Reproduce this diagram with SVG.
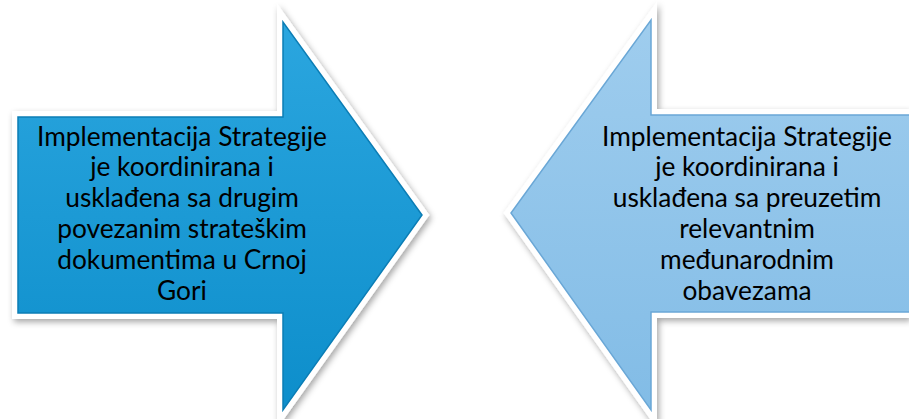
<svg xmlns="http://www.w3.org/2000/svg" width="909" height="419" viewBox="0 0 909 419">
<defs>
<linearGradient id="gL" x1="0" y1="0" x2="0" y2="1">
<stop offset="0" stop-color="#2ba6df"/>
<stop offset="1" stop-color="#0d8ecb"/>
</linearGradient>
<linearGradient id="gR" x1="0" y1="0" x2="0" y2="1">
<stop offset="0" stop-color="#9fcdee"/>
<stop offset="1" stop-color="#82bce6"/>
</linearGradient>
<filter id="sh" x="-10%" y="-10%" width="120%" height="120%">
<feGaussianBlur in="SourceAlpha" stdDeviation="3"/>
<feOffset dx="2" dy="3" result="b"/>
<feFlood flood-color="#000" flood-opacity="0.35"/>
<feComposite in2="b" operator="in" result="s"/>
<feMerge><feMergeNode in="s"/><feMergeNode in="SourceGraphic"/></feMerge>
</filter>
<style>
.lbl{font-family:Lato,"Liberation Sans",sans-serif;font-size:26.3px;fill:#000;text-anchor:middle}
.rim{fill:#fff;stroke:#fff;stroke-width:12;stroke-linejoin:miter}
</style>
</defs>
<g id="arrow-left">
<path class="rim" filter="url(#sh)" d="M18,117 H283 V22 L422,215 L283,410 V313 H18 Z"/>
<path d="M18,117 H283 V22 L422,215 L283,410 V313 H18 Z" fill="url(#gL)" stroke="#0b7db5" stroke-width="1.5"/>
<text class="lbl" x="182" y="146">Implementacija Strategije</text>
<text class="lbl" x="182" y="176">je koordinirana i</text>
<text class="lbl" x="182" y="207">usklađena sa drugim</text>
<text class="lbl" x="182" y="238">povezanim strateškim</text>
<text class="lbl" x="182" y="269">dokumentima u Crnoj</text>
<text class="lbl" x="182" y="300">Gori</text>
</g>
<g id="arrow-right">
<path class="rim" filter="url(#sh)" d="M909,115 H651 V20 L511,213 L651,410 V312 H909"/>
<path d="M912,115 H651 V20 L511,213 L651,410 V312 H912 Z" fill="url(#gR)" stroke="#6aa7d6" stroke-width="1.5"/>
<text class="lbl" x="747" y="146">Implementacija Strategije</text>
<text class="lbl" x="747" y="176">je koordinirana i</text>
<text class="lbl" x="747" y="207">usklađena sa preuzetim</text>
<text class="lbl" x="747" y="238">relevantnim</text>
<text class="lbl" x="747" y="269">međunarodnim</text>
<text class="lbl" x="747" y="300">obavezama</text>
</g>
<g id="connectors"/>
</svg>
